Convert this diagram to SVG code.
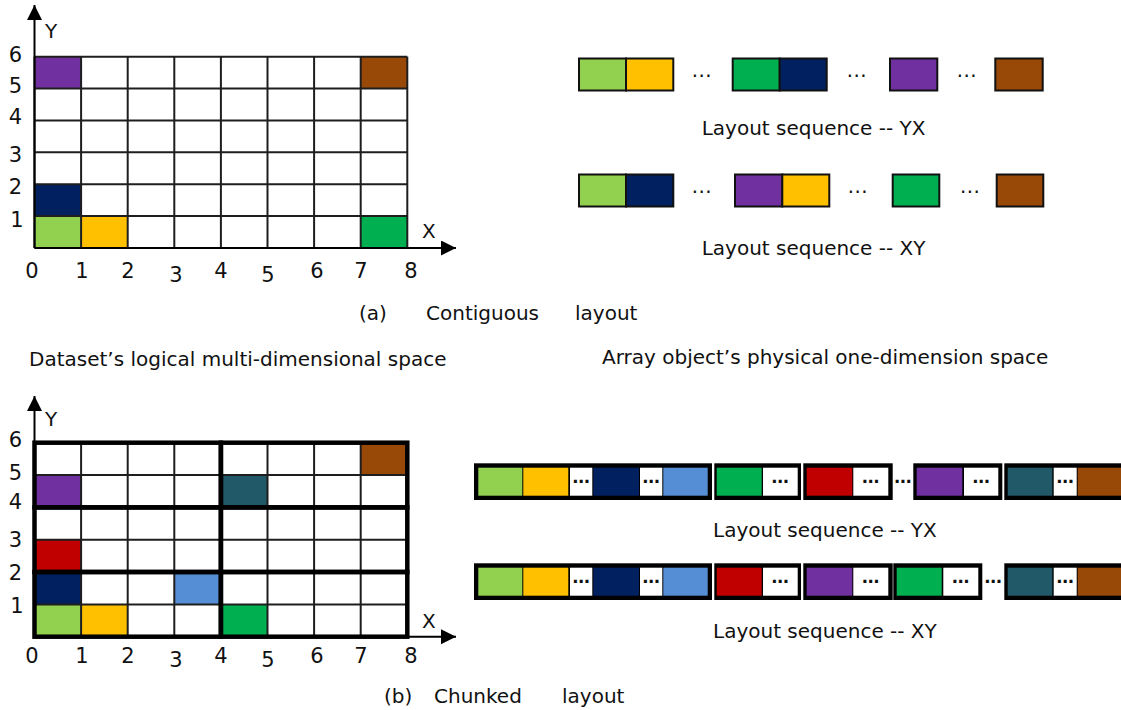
<svg xmlns="http://www.w3.org/2000/svg" width="1121" height="710" viewBox="0 0 1121 710">
  <style>
    text { font-family: "DejaVu Sans", "Liberation Sans", sans-serif; fill: #111; }
    .lbl { font-size: 20px; }
    .num { font-size: 21px; text-anchor: middle; }
    .dots { font-size: 20px; text-anchor: middle; }
    .sdots { font-size: 17px; text-anchor: middle; font-weight: bold; }
    .grid { fill: none; stroke: #1e1e1e; stroke-width: 2; }
    .chunk { fill: none; stroke: #000; stroke-width: 4.5; }
    .axis { stroke: #000; stroke-width: 2; fill: none; marker-end: url(#arrow); }
    .box { stroke: #111; stroke-width: 2; }
    .lg { fill: #92D050; }
    .gd { fill: #FFC000; }
    .nv { fill: #002060; }
    .pp { fill: #7030A0; }
    .br { fill: #984807; }
    .gn { fill: #00B050; }
    .rd { fill: #C00000; }
    .bl { fill: #558ED5; }
    .tl { fill: #215968; }
    .wh { fill: #FFFFFF; }
    .blk { fill: #000; }
  </style>
  <defs>
    <marker id="arrow" markerUnits="userSpaceOnUse" markerWidth="16" markerHeight="16" refX="15" refY="7.5" orient="auto">
      <path d="M0,0 L15,7.5 L0,15 Z" fill="#000"/>
    </marker>
  </defs>

  <!-- (a) contiguous layout: 8 x 6 logical grid -->
  <g id="grid-contiguous">
    <rect x="34.5" y="56.7" width="372.8" height="191.3" fill="#fff"/>
    <rect class="pp" x="34.5" y="56.7" width="46.6" height="31.9"/>
    <rect class="br" x="360.7" y="56.7" width="46.6" height="31.9"/>
    <rect class="nv" x="34.5" y="184.2" width="46.6" height="31.9"/>
    <rect class="lg" x="34.5" y="216.1" width="46.6" height="31.9"/>
    <rect class="gd" x="81.1" y="216.1" width="46.6" height="31.9"/>
    <rect class="gn" x="360.7" y="216.1" width="46.6" height="31.9"/>
    <path class="grid" d="M34.5,56.7V248 M81.1,56.7V248 M127.7,56.7V248 M174.3,56.7V248 M220.9,56.7V248 M267.5,56.7V248 M314.1,56.7V248 M360.7,56.7V248 M407.3,56.7V248
      M34.5,56.7H407.3 M34.5,88.6H407.3 M34.5,120.5H407.3 M34.5,152.3H407.3 M34.5,184.2H407.3 M34.5,216.1H407.3 M34.5,248H407.3"/>
    <text class="num" x="15.5" y="62">6</text>
    <text class="num" x="15.5" y="93">5</text>
    <text class="num" x="15.5" y="124">4</text>
    <text class="num" x="15.5" y="161.5">3</text>
    <text class="num" x="15.5" y="194">2</text>
    <text class="num" x="17" y="226.5">1</text>
    <text class="num" x="32" y="278">0</text>
    <text class="num" x="82" y="278">1</text>
    <text class="num" x="128" y="278">2</text>
    <text class="num" x="176" y="281.5">3</text>
    <text class="num" x="221" y="278">4</text>
    <text class="num" x="268" y="281.5">5</text>
    <text class="num" x="317" y="278">6</text>
    <text class="num" x="361" y="278">7</text>
    <text class="num" x="411" y="278">8</text>
    <text class="lbl" x="45" y="38">Y</text>
    <text class="lbl" x="422" y="238">X</text>
  </g>

  <!-- (b) chunked layout: same grid split into 4 x 2 chunks -->
  <g id="grid-chunked">
    <rect x="34.5" y="442.7" width="372.8" height="194" fill="#fff"/>
    <rect class="br" x="360.7" y="442.7" width="46.6" height="32.3"/>
    <rect class="pp" x="34.5" y="475" width="46.6" height="32.4"/>
    <rect class="tl" x="220.9" y="475" width="46.6" height="32.4"/>
    <rect class="rd" x="34.5" y="539.7" width="46.6" height="32.3"/>
    <rect class="nv" x="34.5" y="572" width="46.6" height="32.4"/>
    <rect class="bl" x="174.3" y="572" width="46.6" height="32.4"/>
    <rect class="lg" x="34.5" y="604.4" width="46.6" height="32.3"/>
    <rect class="gd" x="81.1" y="604.4" width="46.6" height="32.3"/>
    <rect class="gn" x="220.9" y="604.4" width="46.6" height="32.3"/>
    <path class="grid" d="M34.5,442.7V636.7 M81.1,442.7V636.7 M127.7,442.7V636.7 M174.3,442.7V636.7 M220.9,442.7V636.7 M267.5,442.7V636.7 M314.1,442.7V636.7 M360.7,442.7V636.7 M407.3,442.7V636.7
      M34.5,442.7H407.3 M34.5,475H407.3 M34.5,507.4H407.3 M34.5,539.7H407.3 M34.5,572H407.3 M34.5,604.4H407.3 M34.5,636.7H407.3"/>
    <rect class="chunk" x="34.5" y="442.7" width="186.4" height="64.7"/>
    <rect class="chunk" x="220.9" y="442.7" width="186.4" height="64.7"/>
    <rect class="chunk" x="34.5" y="507.4" width="186.4" height="64.6"/>
    <rect class="chunk" x="220.9" y="507.4" width="186.4" height="64.6"/>
    <rect class="chunk" x="34.5" y="572" width="186.4" height="64.7"/>
    <rect class="chunk" x="220.9" y="572" width="186.4" height="64.7"/>
    <text class="num" x="15.5" y="447">6</text>
    <text class="num" x="15.5" y="480">5</text>
    <text class="num" x="15.5" y="509">4</text>
    <text class="num" x="15.5" y="546.5">3</text>
    <text class="num" x="15.5" y="580">2</text>
    <text class="num" x="17" y="612.5">1</text>
    <text class="num" x="32" y="663">0</text>
    <text class="num" x="82" y="663">1</text>
    <text class="num" x="128" y="663">2</text>
    <text class="num" x="176" y="666.5">3</text>
    <text class="num" x="221" y="663">4</text>
    <text class="num" x="268" y="666.5">5</text>
    <text class="num" x="317" y="663">6</text>
    <text class="num" x="361" y="663">7</text>
    <text class="num" x="411" y="663">8</text>
    <text class="lbl" x="45" y="426">Y</text>
    <text class="lbl" x="422" y="628">X</text>
  </g>

  <!-- coordinate axes -->
  <g id="connectors">
    <path class="axis" d="M34.5,248 V5"/>
    <path class="axis" d="M34.5,248 H456"/>
    <path class="axis" d="M34.5,442 V396"/>
    <path class="axis" d="M407,636.7 H456"/>
  </g>

  <!-- contiguous storage, Y-major order -->
  <g id="seq-contiguous-yx">
    <rect class="box lg" x="579" y="58.5" width="47" height="32"/>
    <rect class="box gd" x="626" y="58.5" width="47.3" height="32"/>
    <text class="dots" x="701.7" y="82">⋯</text>
    <rect class="box gn" x="732.7" y="58.5" width="47" height="32"/>
    <rect class="box nv" x="779.7" y="58.5" width="47" height="32"/>
    <text class="dots" x="856.7" y="82">⋯</text>
    <rect class="box pp" x="890" y="58.5" width="47.3" height="32"/>
    <text class="dots" x="966.7" y="82">⋯</text>
    <rect class="box br" x="995.3" y="58.5" width="47.4" height="32"/>
    <text class="lbl" x="701.7" y="135">Layout sequence -- YX</text>
  </g>

  <!-- contiguous storage, X-major order -->
  <g id="seq-contiguous-xy">
    <rect class="box lg" x="579" y="174.5" width="47" height="32"/>
    <rect class="box nv" x="626" y="174.5" width="47.3" height="32"/>
    <text class="dots" x="701.7" y="198">⋯</text>
    <rect class="box pp" x="735" y="174.5" width="47.3" height="32"/>
    <rect class="box gd" x="782.3" y="174.5" width="47" height="32"/>
    <text class="dots" x="857.7" y="198">⋯</text>
    <rect class="box gn" x="892.7" y="174.5" width="46.6" height="32"/>
    <text class="dots" x="970" y="198">⋯</text>
    <rect class="box br" x="996.7" y="174.5" width="46.6" height="32"/>
    <text class="lbl" x="701.7" y="255">Layout sequence -- XY</text>
  </g>

  <!-- chunked storage, Y-major order -->
  <g id="seq-chunked-yx">
    <rect class="blk" x="474" y="463.3" width="238" height="36.7"/>
    <rect class="lg" x="478.3" y="467.7" width="44" height="28"/>
    <rect class="gd" x="523.3" y="467.7" width="45" height="28"/>
    <rect class="wh" x="570" y="467.7" width="22.3" height="28"/>
    <text class="sdots" x="581.2" y="487">⋯</text>
    <rect class="nv" x="593.3" y="467.7" width="45.7" height="28"/>
    <rect class="wh" x="640" y="467.7" width="22.3" height="28"/>
    <text class="sdots" x="651.2" y="487">⋯</text>
    <rect class="bl" x="663.3" y="467.7" width="44.4" height="28"/>

    <rect class="blk" x="714.3" y="463.3" width="86.7" height="36.7"/>
    <rect class="gn" x="716.7" y="467.7" width="45" height="28"/>
    <rect class="wh" x="763" y="467.7" width="34.7" height="28"/>
    <text class="sdots" x="780.3" y="487">⋯</text>

    <rect class="blk" x="803.3" y="463.3" width="89.4" height="36.7"/>
    <rect class="rd" x="806.7" y="467.7" width="45.6" height="28"/>
    <rect class="wh" x="853.3" y="467.7" width="35" height="28"/>
    <text class="sdots" x="870.8" y="487">⋯</text>

    <text class="sdots" x="903" y="487">⋯</text>

    <rect class="blk" x="913.3" y="463.3" width="89" height="36.7"/>
    <rect class="pp" x="916.7" y="467.7" width="45.6" height="28"/>
    <rect class="wh" x="964" y="467.7" width="34.3" height="28"/>
    <text class="sdots" x="981.2" y="487">⋯</text>

    <rect class="blk" x="1004.3" y="463.3" width="126" height="36.7"/>
    <rect class="tl" x="1007.7" y="467.7" width="44.6" height="28"/>
    <rect class="wh" x="1053.7" y="467.7" width="23" height="28"/>
    <text class="sdots" x="1065.2" y="487">⋯</text>
    <rect class="br" x="1077.7" y="467.7" width="50" height="28"/>
    <text class="lbl" x="713" y="537">Layout sequence -- YX</text>
  </g>

  <!-- chunked storage, X-major order -->
  <g id="seq-chunked-xy">
    <rect class="blk" x="474" y="563.3" width="238" height="36.7"/>
    <rect class="lg" x="478.3" y="567.7" width="44" height="28"/>
    <rect class="gd" x="523.3" y="567.7" width="45" height="28"/>
    <rect class="wh" x="570" y="567.7" width="22.3" height="28"/>
    <text class="sdots" x="581.2" y="587">⋯</text>
    <rect class="nv" x="593.3" y="567.7" width="45.7" height="28"/>
    <rect class="wh" x="640" y="567.7" width="22.3" height="28"/>
    <text class="sdots" x="651.2" y="587">⋯</text>
    <rect class="bl" x="663.3" y="567.7" width="44.4" height="28"/>

    <rect class="blk" x="714.3" y="563.3" width="86.7" height="36.7"/>
    <rect class="rd" x="716.7" y="567.7" width="45" height="28"/>
    <rect class="wh" x="763" y="567.7" width="34.7" height="28"/>
    <text class="sdots" x="780.3" y="587">⋯</text>

    <rect class="blk" x="803.3" y="563.3" width="89.4" height="36.7"/>
    <rect class="pp" x="806.7" y="567.7" width="45.6" height="28"/>
    <rect class="wh" x="853.3" y="567.7" width="35" height="28"/>
    <text class="sdots" x="870.8" y="587">⋯</text>

    <rect class="blk" x="893.3" y="563.3" width="89" height="36.7"/>
    <rect class="gn" x="896.7" y="567.7" width="45" height="28"/>
    <rect class="wh" x="943.3" y="567.7" width="35" height="28"/>
    <text class="sdots" x="960.8" y="587">⋯</text>

    <text class="sdots" x="993.3" y="587">⋯</text>

    <rect class="blk" x="1004.3" y="563.3" width="126" height="36.7"/>
    <rect class="tl" x="1007.7" y="567.7" width="44.6" height="28"/>
    <rect class="wh" x="1053.7" y="567.7" width="23" height="28"/>
    <text class="sdots" x="1065.2" y="587">⋯</text>
    <rect class="br" x="1077.7" y="567.7" width="50" height="28"/>
    <text class="lbl" x="713" y="638">Layout sequence -- XY</text>
  </g>

  <!-- captions -->
  <g id="captions">
    <text class="lbl" y="320"><tspan x="359">(a)</tspan><tspan x="426">Contiguous</tspan><tspan x="575">layout</tspan></text>
    <text class="lbl" x="29" y="366">Dataset’s logical multi-dimensional space</text>
    <text class="lbl" x="602" y="364">Array object’s physical one-dimension space</text>
    <text class="lbl" y="703"><tspan x="384">(b)</tspan><tspan x="434">Chunked</tspan><tspan x="562">layout</tspan></text>
  </g>
</svg>
